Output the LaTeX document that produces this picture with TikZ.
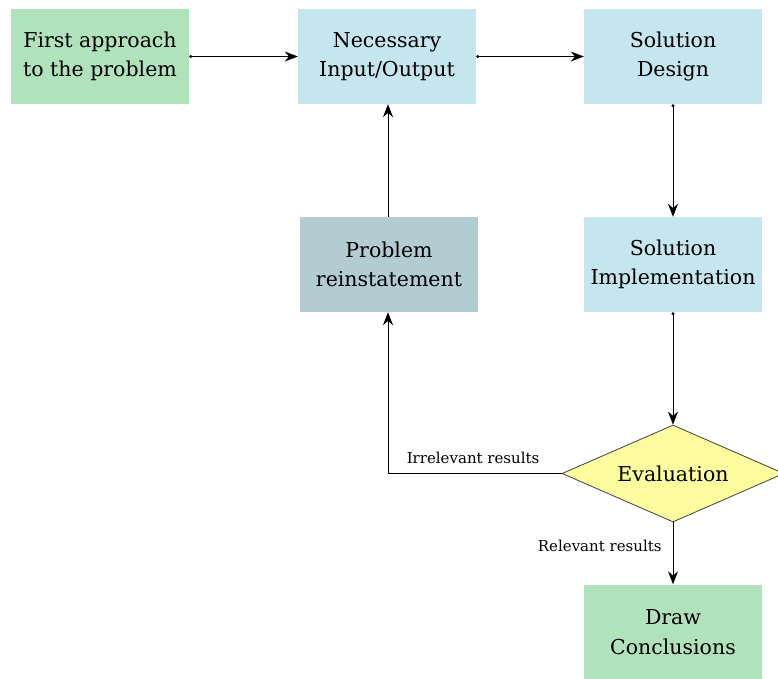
\documentclass[tikz,border=0pt]{standalone}
\usepackage{fontspec}
\setmainfont{DejaVu Serif}
\usetikzlibrary{arrows.meta,shapes.geometric}
\definecolor{startgreen}{HTML}{B0E2BC}
\definecolor{stepblue}{HTML}{C5E6EE}
\definecolor{redogray}{HTML}{B3CCD2}
\definecolor{decideyellow}{HTML}{FCFC9E}
\tikzset{
  stepbox/.style={rectangle, minimum width=178pt, minimum height=95pt,
    inner sep=0pt, align=center, font=\fontsize{20.5}{29.5}\selectfont},
  decision/.style={diamond, aspect=2.29, draw=black!75, line width=0.8pt, fill=decideyellow,
    minimum width=222pt, minimum height=97pt, inner sep=0pt,
    font=\fontsize{20.5}{29.5}\selectfont},
  tip/.style={Stealth[length=13pt,width=10pt]},
  flow/.style={line width=0.9pt, {Circle[length=3pt]}-{Stealth[length=13pt,width=10pt]}},
  feedback/.style={line width=0.9pt, -{Stealth[length=13pt,width=10pt]}},
  tag/.style={font=\fontsize{15}{19}\selectfont, inner sep=0pt}
}
\begin{document}
\begin{tikzpicture}[x=1pt,y=-1pt]
  \clip (0,0) rectangle (778,678);
  \fill[white] (0,0) rectangle (778,678);

  \node[stepbox, fill=startgreen] (first) at (100,56.5) {First approach\\to the problem};
  \node[stepbox, fill=stepblue] (io) at (387,56.5) {Necessary\\Input/Output};
  \node[stepbox, fill=stepblue] (design) at (673,56.5) {Solution\\Design};
  \node[stepbox, fill=redogray] (restate) at (389,264.5) {Problem\\reinstatement};
  \node[stepbox, fill=stepblue] (impl) at (673,264.5) {Solution\\Implementation};
  \node[decision] (eval) at (673,473.5) {Evaluation};
  \node[stepbox, fill=startgreen] (concl) at (673,632) {Draw\\Conclusions};

  \coordinate (corner) at (388,0 |- eval.west);
  \coordinate (riseA) at (388,0 |- restate.north);
  \coordinate (riseB) at (388,0 |- io.south);
  \coordinate (fallA) at (388,0 |- restate.south);

  \draw[flow] (first.east) -- (io.west);
  \draw[flow] (io.east) -- (design.west);
  \draw[flow] (design.south) -- (impl.north);
  \draw[flow] (impl.south) -- (eval.north);
  \draw[feedback] (eval.south) -- node[tag, left=11pt, pos=0.38] {Relevant results} (concl.north);
  \draw[feedback] (eval.west) -- node[tag, above=9pt, pos=0.51] {Irrelevant results} (corner) -- (fallA);
  \draw[feedback] (riseA) -- (riseB);
\end{tikzpicture}
\end{document}
